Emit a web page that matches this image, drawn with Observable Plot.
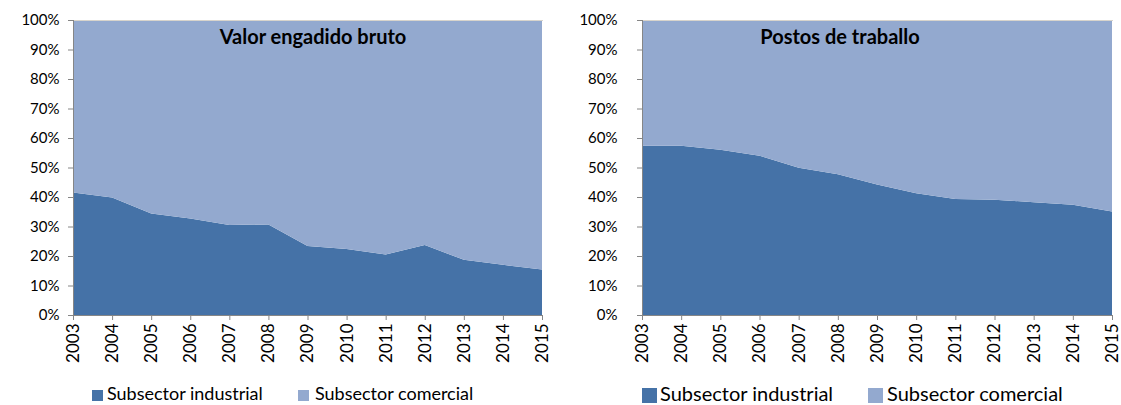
<!DOCTYPE html>
<html>
<head>
<meta charset="utf-8">
<script src="https://cdn.jsdelivr.net/npm/d3@7"></script>
<script src="https://cdn.jsdelivr.net/npm/@observablehq/plot@0.6"></script>
<style>
  html, body { margin: 0; padding: 0; background: #fff; }
  body { font-family: Lato, "Open Sans", sans-serif; color: #000; }
  #wrap { position: relative; width: 1121px; height: 405px; overflow: hidden; }
  .panel { position: absolute; top: 0; }
  .title { position: absolute; font-weight: bold; font-size: 20px; transform: translateX(-50%); white-space: nowrap; line-height: 1; }
  .leg { position: absolute; white-space: nowrap; line-height: 1.2; }
  .sw { position: absolute; }
  g[aria-label="x-axis tick"], g[aria-label="y-axis tick"] { stroke: #868686; }
</style>
</head>
<body>
<div id="wrap"></div>
<script>
// ---- data ----
const years = [2003, 2004, 2005, 2006, 2007, 2008, 2009, 2010, 2011, 2012, 2013, 2014, 2015];
const seriesNames = ["Subsector industrial", "Subsector comercial"];
const industrialVAB = [41.5, 39.8, 34.4, 32.7, 30.5, 30.7, 23.4, 22.4, 20.5, 23.7, 18.7, 17.0, 15.4];
const comercialVAB  = [58.5, 60.2, 65.6, 67.3, 69.5, 69.3, 76.6, 77.6, 79.5, 76.3, 81.3, 83.0, 84.6];
const industrialPostos = [57.4, 57.4, 56.0, 54.0, 49.9, 47.7, 44.2, 41.3, 39.3, 39.1, 38.2, 37.4, 35.1];
const comercialPostos  = [42.6, 42.6, 44.0, 46.0, 50.1, 52.3, 55.8, 58.7, 60.7, 60.9, 61.8, 62.6, 64.9];
const yTicks = [0, 10, 20, 30, 40, 50, 60, 70, 80, 90, 100];
const titles = ["Valor engadido bruto", "Postos de traballo"];

const darkBlue = "#4572A7";
const lightBlue = "#93A9CF";

function rows(ind, com) {
  const out = [];
  years.forEach((y, i) => out.push({year: y, value: ind[i], series: seriesNames[0]}));
  years.forEach((y, i) => out.push({year: y, value: com[i], series: seriesNames[1]}));
  return out;
}

function makeChart(data, opts) {
  return Plot.plot({
    width: opts.width,
    height: 375,
    marginLeft: opts.marginLeft,
    marginRight: opts.marginRight,
    marginTop: 20,
    marginBottom: 60,
    style: {fontFamily: "Lato, sans-serif", fontSize: opts.fontSize + "px", color: "#000", background: "transparent"},
    x: {domain: [years[0], years[years.length - 1]], label: null},
    y: {domain: [0, 100], label: null},
    color: {domain: seriesNames, range: [darkBlue, lightBlue]},
    marks: [
      Plot.areaY(data, {x: "year", y: "value", fill: "series", order: seriesNames}),
      Plot.frame({anchor: "top", stroke: "#d8d4cc"}),
      Plot.frame({anchor: "left", stroke: "#868686"}),
      Plot.frame({anchor: "bottom", stroke: "#868686"}),
      Plot.axisY({ticks: yTicks, tickFormat: d => d + "%", tickSize: 5, tickPadding: opts.yPad, fontSize: opts.fontSize, label: null}),
      Plot.axisX({ticks: years, tickFormat: d => String(d), tickRotate: -90, tickSize: 5, tickPadding: 3, fontSize: opts.xFontSize, label: null})
    ]
  });
}

const wrap = document.getElementById("wrap");

const panels = [
  {data: rows(industrialVAB, comercialVAB), left: 0, width: 560, marginLeft: 73, marginRight: 18, yPad: 9, fontSize: 15, xFontSize: 17,
   titleX: 313, legend: {top: 383, swTop: 390, size: 11, font: 18, items: [[92, 107], [298, 315]]}},
  {data: rows(industrialPostos, comercialPostos), left: 560, width: 561, marginLeft: 82, marginRight: 9, yPad: 20, fontSize: 15, xFontSize: 17,
   titleX: 840, legend: {top: 381, swTop: 388, size: 15, font: 20, items: [[642, 660], [868, 887]]}}
];

panels.forEach((p, k) => {
  const div = document.createElement("div");
  div.className = "panel";
  div.style.left = p.left + "px";
  div.appendChild(makeChart(p.data, p));
  wrap.appendChild(div);

  const t = document.createElement("div");
  t.className = "title";
  t.style.left = p.titleX + "px";
  t.style.top = "26px";
  t.textContent = titles[k];
  wrap.appendChild(t);

  p.legend.items.forEach(([sx, tx], i) => {
    const sw = document.createElement("div");
    sw.className = "sw";
    sw.style.left = sx + "px";
    sw.style.top = p.legend.swTop + "px";
    sw.style.width = p.legend.size + "px";
    sw.style.height = p.legend.size + "px";
    sw.style.background = i === 0 ? darkBlue : lightBlue;
    wrap.appendChild(sw);
    const lab = document.createElement("div");
    lab.className = "leg";
    lab.style.left = tx + "px";
    lab.style.top = p.legend.top + "px";
    lab.style.fontSize = p.legend.font + "px";
    lab.textContent = seriesNames[i];
    wrap.appendChild(lab);
  });
});
</script>
</body>
</html>
